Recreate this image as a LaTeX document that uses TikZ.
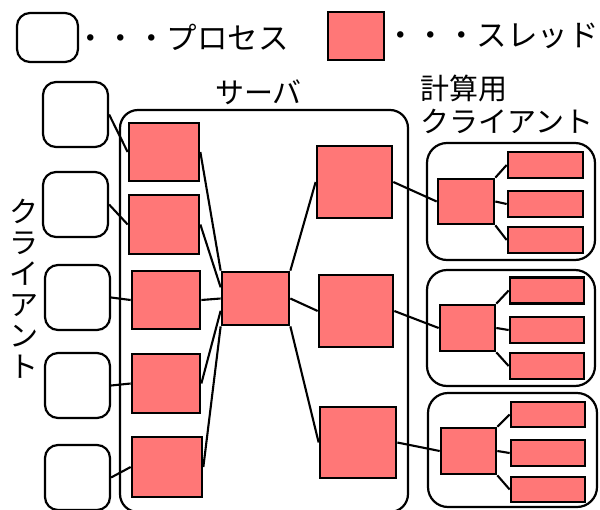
\documentclass[tikz,border=0pt]{standalone}
\usepackage{fontspec}
\usetikzlibrary{calc}
\setmainfont{Noto Sans CJK JP}
\definecolor{thrfill}{RGB}{255,119,119}
\begin{document}
\begin{tikzpicture}[x=1pt,y=-1pt,
  proc/.style={draw=black,line width=2.2pt,rounded corners=13pt,fill=white,inner sep=0pt},
  thr/.style={draw=black,line width=2.7pt,fill=thrfill,inner sep=0pt},
  grp/.style={draw=black,line width=2.2pt,rounded corners=18pt,inner sep=0pt},
  conn/.style={line width=2.1pt,draw=black},
  lbl/.style={inner sep=0pt,font=\fontsize{29}{31}\selectfont},
  leg/.style={inner sep=0pt,font=\fontsize{30.5}{31}\selectfont}]
\useasboundingbox[fill=white] (0,0) rectangle (600,509);
% legend
\node[proc,minimum width=61,minimum height=49] (lp) at (47.5,37.5) {};
\node[leg,anchor=west] (lpt) at (75,37) {・・・プロセス};
\node[thr,minimum width=56,minimum height=48] (lt) at (356,36) {};
\node[leg,anchor=west] (ltt) at (385,36) {・・・スレッド};
% labels
\node[lbl,anchor=west] (srvl) at (215,92) {サーバ};
\node[lbl,anchor=west] (cl1) at (420,88) {計算用};
\node[lbl,anchor=west] (cl2) at (420,121) {クライアント};
\node[lbl,align=center] (vl) at (24,289) {ク\\ラ\\イ\\ア\\ン\\ト};
% server box
\node[grp,minimum width=288,minimum height=402] (srv) at (264,311) {};
% clients
\node[proc,minimum width=65,minimum height=65] (c1) at (75.5,114.5) {};
\node[proc,minimum width=65,minimum height=65] (c2) at (75.5,204.5) {};
\node[proc,minimum width=65,minimum height=65] (c3) at (77.5,297.5) {};
\node[proc,minimum width=65,minimum height=65] (c4) at (77.5,385.5) {};
\node[proc,minimum width=65,minimum height=65] (c5) at (77.5,477.5) {};
% server threads
\node[thr,minimum width=70,minimum height=58] (t1) at (164,152) {};
\node[thr,minimum width=70,minimum height=59] (t2) at (164,224.5) {};
\node[thr,minimum width=68,minimum height=58] (t3) at (166,300) {};
\node[thr,minimum width=68,minimum height=59] (t4) at (166,383.5) {};
\node[thr,minimum width=70,minimum height=60] (t5) at (167,467) {};
\node[thr,minimum width=67,minimum height=53] (cc) at (255.5,298.5) {};
\node[thr,minimum width=75,minimum height=72] (r1) at (354.5,182) {};
\node[thr,minimum width=74,minimum height=72] (r2) at (356,311) {};
\node[thr,minimum width=76,minimum height=71] (r3) at (358,442.5) {};
% compute clients
\node[grp,rounded corners=20pt,minimum width=168,minimum height=117] (k1) at (511,201.5) {};
\node[grp,rounded corners=20pt,minimum width=168,minimum height=116] (k2) at (511,328) {};
\node[grp,rounded corners=20pt,minimum width=169,minimum height=114] (k3) at (512.5,450) {};
\node[thr,minimum width=56,minimum height=45] (m1) at (466,201.5) {};
\node[thr,minimum width=55,minimum height=46] (m2) at (467.5,328) {};
\node[thr,minimum width=55,minimum height=46] (m3) at (468.5,451) {};
\node[thr,minimum width=75,minimum height=26] (s11) at (545.5,165) {};
\node[thr,minimum width=75,minimum height=26] (s12) at (545.5,204) {};
\node[thr,minimum width=75,minimum height=26] (s13) at (545.5,240) {};
\node[thr,minimum width=74,minimum height=26] (s21) at (547,290.5) {};
\node[thr,minimum width=74,minimum height=26] (s22) at (547,330) {};
\node[thr,minimum width=74,minimum height=26] (s23) at (547,366) {};
\node[thr,minimum width=74,minimum height=25] (s31) at (548,414.5) {};
\node[thr,minimum width=74,minimum height=26] (s32) at (548,453) {};
\node[thr,minimum width=74,minimum height=25] (s33) at (548,489.5) {};
% connectors
\draw[conn] (c1.east) -- (t1.west);
\draw[conn] (c2.east) -- (t2.west);
\draw[conn] (c3.east) -- (t3.west);
\draw[conn] (c4.east) -- (t4.west);
\draw[conn] (c5.east) -- (t5.west);
\draw[conn] (t1.east) -- (cc.north west);
\draw[conn] (t2.east) -- ($(cc.north west)!0.3!(cc.south west)$);
\draw[conn] (t3.east) -- (cc.west);
\draw[conn] (t4.east) -- ($(cc.north west)!0.72!(cc.south west)$);
\draw[conn] (t5.east) -- (cc.south west);
\draw[conn] (cc.north east) -- (r1.west);
\draw[conn] (cc.east) -- (r2.west);
\draw[conn] (cc.south east) -- (r3.west);
\draw[conn] (r1.east) -- (m1.west);
\draw[conn] (r2.east) -- (m2.west);
\draw[conn] (r3.east) -- (m3.west);
\draw[conn] (m1.north east) -- (s11.west);
\draw[conn] (m1.east) -- (s12.west);
\draw[conn] (m1.south east) -- (s13.west);
\draw[conn] (m2.north east) -- (s21.west);
\draw[conn] (m2.east) -- (s22.west);
\draw[conn] (m2.south east) -- (s23.west);
\draw[conn] (m3.north east) -- (s31.west);
\draw[conn] (m3.east) -- (s32.west);
\draw[conn] (m3.south east) -- (s33.west);
\end{tikzpicture}
\end{document}
